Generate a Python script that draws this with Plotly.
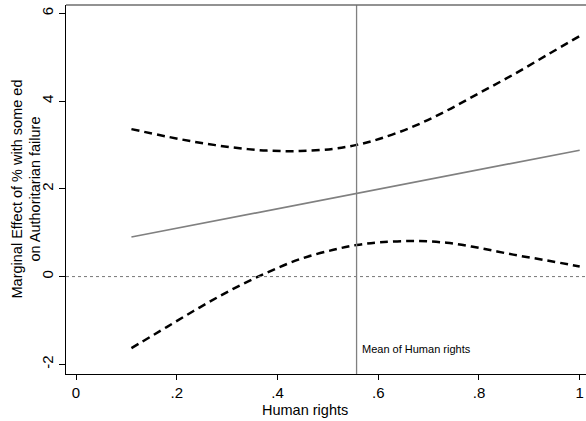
import plotly.graph_objects as go

# Data
x_vals = [0.11, 0.18, 0.246, 0.312, 0.379, 0.445, 0.511, 0.557, 0.603, 0.67, 0.736, 0.802, 0.868, 0.934, 1.0]
upper_ci = [3.36, 3.19, 3.05, 2.94, 2.87, 2.86, 2.91, 3.00, 3.14, 3.42, 3.78, 4.19, 4.60, 5.04, 5.48]
lower_ci = [-1.63, -1.15, -0.70, -0.28, 0.09, 0.40, 0.61, 0.72, 0.78, 0.81, 0.77, 0.65, 0.50, 0.37, 0.23]
effect_x = [0.11, 1.0]
effect_y = [0.90, 2.88]
mean_x = 0.557
x_ticks = [0, 0.2, 0.4, 0.6, 0.8, 1.0]
x_tick_labels = ["0", ".2", ".4", ".6", ".8", "1"]
y_ticks = [-2, 0, 2, 4, 6]
y_tick_labels = ["-2", "0", "2", "4", "6"]

FONT = "Liberation Sans, Arial, sans-serif"

fig = go.Figure()
fig.add_trace(go.Scatter(x=x_vals, y=upper_ci, mode="lines",
                         line=dict(color="black", width=2.5, dash="8px,5px", shape="spline", smoothing=1.0),
                         hoverinfo="skip"))
fig.add_trace(go.Scatter(x=x_vals, y=lower_ci, mode="lines",
                         line=dict(color="black", width=2.5, dash="8px,5px", shape="spline", smoothing=1.0),
                         hoverinfo="skip"))
fig.add_trace(go.Scatter(x=effect_x, y=effect_y, mode="lines",
                         line=dict(color="#808080", width=1.6), hoverinfo="skip"))

# zero reference line (dotted)
fig.add_shape(type="line", xref="paper", x0=0, x1=1, yref="y", y0=0, y1=0,
              line=dict(color="#777777", width=1, dash="dot"))
# mean line
fig.add_shape(type="line", xref="x", x0=mean_x, x1=mean_x, yref="paper", y0=0, y1=1,
              line=dict(color="#808080", width=1.3))
# top border
fig.add_shape(type="line", xref="paper", x0=0, x1=1, yref="paper", y0=1, y1=1,
              line=dict(color="#6e6e6e", width=1.3))

fig.add_annotation(x=mean_x, xref="x", y=-1.65, yref="y", text="Mean of Human rights",
                   showarrow=False, xanchor="left", xshift=3,
                   font=dict(family=FONT, size=11, color="black"))

# axis titles as annotations
fig.add_annotation(xref="paper", x=(305 - 66) / 520, yref="paper", y=-(410 - 374) / 369,
                   text="Human rights", showarrow=False, xanchor="center", yanchor="middle",
                   font=dict(family=FONT, size=14.5, color="black"))
fig.add_annotation(xref="paper", x=(26 - 66) / 520, yref="paper", y=0.5,
                   text="Marginal Effect of % with some ed<br>on Authoritarian failure",
                   showarrow=False, textangle=-90, xanchor="center", yanchor="middle",
                   font=dict(family=FONT, size=14.5, color="black"))

fig.update_layout(
    width=586, height=421,
    margin=dict(l=66, r=0, t=5, b=47),
    paper_bgcolor="white", plot_bgcolor="white",
    showlegend=False,
    font=dict(family=FONT, size=14, color="black"),
    xaxis=dict(range=[-0.0199, 1.0125], tickvals=x_ticks, ticktext=x_tick_labels,
               showgrid=False, zeroline=False, showline=True, linecolor="black", linewidth=1.3,
               ticks="outside", ticklen=5, tickcolor="black", tickfont=dict(family=FONT, size=15)),
    yaxis=dict(range=[-2.219, 6.187], tickvals=y_ticks, ticktext=y_tick_labels,
               showgrid=False, zeroline=False, showline=True, linecolor="black", linewidth=1.3,
               ticks="outside", ticklen=6, tickcolor="black", tickangle=-90,
               ticklabelstandoff=0,
               tickfont=dict(family=FONT, size=15)),
)

fig.write_html("out.html")
